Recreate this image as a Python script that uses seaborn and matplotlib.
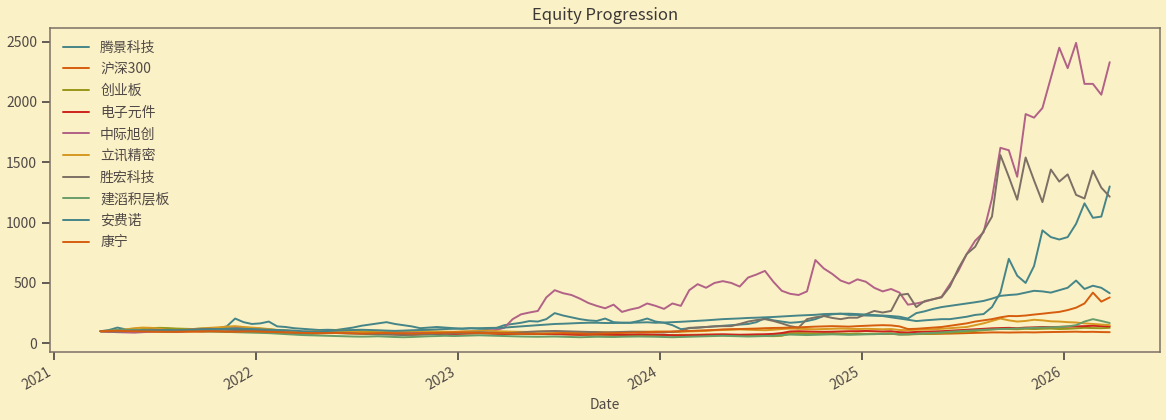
import pandas as pd
import matplotlib.pyplot as plt
import matplotlib.dates as mdates
import seaborn as sns

# date range of the equity curves (semi-monthly samples)
start = "2021-03-26"
end = "2026-03-25"

names = ["腾景科技", "沪深300", "创业板", "电子元件", "中际旭创",
         "立讯精密", "胜宏科技", "建滔积层板", "安费诺", "康宁"]
colors = ["#458588", "#d65d0e", "#98971a", "#cc241d", "#b16286",
          "#d79921", "#7c6f64", "#689d6a", "#458588", "#d65d0e"]

tengjing = [100, 110, 130, 115, 110, 108, 112, 115, 110, 112, 115, 118, 120, 118, 125, 140, 205, 175, 160, 165, 180,
            140, 135, 125, 120, 115, 110, 112, 110, 120, 130, 145, 155, 165, 175, 160, 150, 140, 125, 130, 135,
            130, 125, 120, 125, 120, 118, 125,
            150, 160, 170, 184, 180, 200, 250, 230, 215, 200, 190, 185, 205, 175, 170, 170, 185, 205, 180, 170,
            150, 117, 125, 130, 135, 140, 145, 150, 155, 160, 175,
            209, 190, 180, 170, 175, 184, 200, 226, 240, 245, 235, 235, 230, 228, 226, 215, 205, 195, 184, 190,
            195, 200, 200, 210, 220, 235, 242, 300, 420, 700, 560, 500, 640, 936, 880, 860, 880, 990, 1160, 1040,
            1050, 1300]

hs300 = [100, 98, 100, 102, 100, 99, 97, 96, 95, 93, 96, 97, 96, 98, 99, 98, 97, 98, 99,
         97, 95, 92, 90, 86, 82, 80, 82, 84, 85, 86, 85, 84, 83, 80, 78, 76, 74, 72, 75, 76, 78, 80, 78,
         80, 82, 83, 82, 80, 78, 79, 78, 77, 76, 77, 78, 76, 75, 74, 73, 72, 71, 70, 70, 69, 68, 68, 67,
         66, 68, 70, 70, 71, 72, 72, 71, 70, 70, 69, 68, 67, 68, 80, 84, 80, 79, 78, 78, 77, 78, 77, 78,
         77, 76, 77, 78, 74, 75, 76, 77, 78, 79, 80, 82, 84, 86, 88, 90, 90, 89, 90, 91, 90, 92, 93, 94,
         95, 96, 94, 95, 93, 92]

chinext = [100, 102, 106, 110, 112, 118, 125, 128, 126, 122, 120, 118, 122, 124, 126, 125, 124, 122, 124,
           120, 115, 110, 105, 100, 92, 90, 95, 100, 105, 108, 105, 100, 95, 92, 88, 85, 82, 84, 86, 84, 85, 86, 85,
           88, 90, 88, 86, 84, 82, 80, 82, 80, 78, 80, 78, 76, 75, 74, 72, 73, 74, 72, 70, 69, 70, 71, 70,
           68, 64, 60, 62, 66, 68, 67, 66, 64, 63, 62, 60, 60, 59, 62, 80, 84, 82, 80, 82, 84, 80, 78, 80,
           78, 79, 80, 82, 75, 74, 76, 78, 80, 84, 88, 92, 96, 102, 108, 115, 120, 118, 116, 120, 118, 120, 122, 118,
           120, 124, 128, 126, 125, 128]

components = [100, 98, 102, 105, 104, 108, 110, 112, 110, 108, 106, 108, 110, 112, 115, 118, 116, 114, 112,
              110, 105, 100, 96, 92, 88, 85, 88, 90, 92, 94, 92, 88, 85, 82, 80, 78, 76, 74, 75, 76, 78, 80, 78,
              80, 82, 84, 82, 80, 78, 80, 82, 80, 78, 76, 75, 74, 72, 70, 72, 74, 73, 72, 70, 72, 74, 73, 72,
              70, 66, 64, 66, 68, 70, 72, 74, 72, 70, 72, 74, 75, 78, 85, 98, 100, 98, 96, 95, 96, 98, 100, 100,
              102, 100, 98, 100, 92, 90, 94, 96, 98, 100, 104, 108, 112, 116, 120, 124, 126, 128, 125, 130, 132, 135,
              134, 136, 138, 140, 142, 145, 142, 140]

zhongji = [100, 95, 92, 90, 88, 92, 96, 100, 98, 95, 100, 105, 110, 115, 118, 120, 125, 130, 120, 115,
           110, 100, 95, 90, 85, 88, 92, 95, 92, 90, 88, 85, 82, 80, 82, 85, 88, 90, 88, 86,
           88, 90, 92, 95, 98, 100, 105, 110,
           128, 200, 240, 255, 268, 380, 440, 415, 400, 370, 334,
           310, 290, 320, 260, 280, 295, 330, 310, 285, 330, 310, 440, 490, 460, 500, 515, 500, 470, 545, 570,
           600, 510, 435, 410, 400, 430, 690, 620, 575, 520, 495,
           530, 510, 460, 430, 450, 420, 320, 330, 345, 365, 385, 490, 600, 740, 850, 920, 1200, 1620, 1600, 1380,
           1900, 1870, 1950, 2200, 2450, 2280, 2490, 2150, 2150, 2060, 2330]

luxshare = [100, 102, 108, 115, 125, 130, 128, 120, 110, 108, 112, 118, 122, 128, 132, 138, 142, 135, 130,
            125, 118, 110, 105, 100, 95, 98, 102, 100, 98, 100, 96, 92, 90, 92, 94, 96, 98, 100, 102, 100, 98, 96, 95,
            98, 100, 102, 104, 100, 98, 96, 95, 94, 96, 98, 96, 94, 92, 90, 92, 94, 92, 90, 92, 94, 95, 96, 98,
            96, 92, 95, 98, 100, 102, 108, 110, 112, 115, 112, 110, 108, 112, 118, 122, 120, 118, 116, 118, 120, 122,
            120, 118,
            120, 118, 116, 118, 110, 108, 112, 114, 116, 120, 125, 130, 135, 150, 165, 185, 205, 190, 180, 185,
            195, 190, 182, 180, 175, 172, 165, 160, 155, 150]

shenghong = [100, 98, 96, 100, 104, 108, 112, 110, 106, 104, 110, 115, 118, 120, 116, 112, 110, 108, 105,
             102, 98, 95, 90, 86, 82, 80, 84, 88, 85, 82, 80, 78, 76, 74, 72, 70, 68, 70, 72, 75, 78, 80, 82,
             85, 88, 90, 88, 86, 84, 86, 90, 95, 98, 100, 102, 100, 98, 96, 94, 92, 90, 92, 94, 96, 95, 94, 92, 90, 95,
             100, 128, 130, 135, 140, 142, 142, 160, 180, 192, 200, 185, 165, 142, 130, 200, 215, 226, 210, 200,
             212, 212, 240, 268, 255, 268, 400, 410, 300, 350, 365, 380, 470, 620, 740, 800, 930, 1050, 1560, 1380,
             1190, 1540, 1350, 1170, 1440, 1340, 1400, 1230, 1200, 1430, 1290, 1215]

kingboard = [100, 104, 108, 110, 112, 108, 105, 100, 98, 102, 106, 104, 100, 98, 96, 94, 92, 90, 88,
             86, 84, 80, 76, 72, 68, 66, 64, 62, 60, 58, 56, 55, 56, 58, 55, 52, 50, 52, 55, 58, 60, 62, 60,
             62, 64, 66, 64, 62, 60, 58, 56, 55, 54, 55, 56, 54, 52, 50, 52, 54, 53, 52, 54, 55, 56, 55, 54,
             52, 50, 52, 54, 56, 58, 60, 62, 60, 58, 56, 58, 60, 62, 68, 72, 70, 68, 70, 72, 74, 72, 70, 72,
             74, 76, 78, 80, 72, 74, 78, 82, 86, 90, 95, 100, 104, 108, 112, 115, 118, 120, 122, 125, 128, 130,
             132, 135, 140, 150, 180, 200, 185, 168]

amphenol = [100, 102, 104, 103, 105, 107, 106, 108, 110, 109, 111, 112, 113, 115, 117, 120, 122, 120, 118,
            115, 112, 110, 108, 105, 100, 98, 100, 102, 105, 108, 110, 112, 110, 108, 105, 103, 105, 108, 110,
            112, 115, 118, 120,
            122, 124, 125, 127, 128, 130, 135, 140, 145, 150, 155, 160, 162, 165, 168, 170, 170, 168, 168, 170,
            170, 172, 174, 170,
            172, 175, 178, 182, 186, 190, 195, 200, 203, 206, 210, 212, 215, 218, 222, 226, 230, 233, 236, 242,
            244, 245, 245, 242, 238, 234, 230, 226, 220,
            205, 250, 265, 285, 300, 310, 320, 330, 340, 351, 370, 393, 400, 405, 420, 435, 430, 420, 440, 460,
            520, 450, 477, 460, 415]

corning = [100, 102, 103, 101, 100, 98, 97, 96, 95, 96, 97, 98, 99, 100, 98, 96, 95, 97, 98,
           96, 94, 92, 90, 88, 86, 85, 84, 85, 86, 84, 82, 80, 82, 84, 85, 83, 82, 80, 82, 84, 86, 88, 90,
           90, 88, 86, 85, 84, 83, 82, 80, 80, 78, 80, 82, 84, 82, 80, 78, 80, 82, 84, 86, 88, 90, 92, 94,
           96, 98, 100, 102, 105, 108, 110, 115, 117, 118, 120, 122, 125, 127, 128, 130, 132, 135, 138, 140,
           142, 140, 138, 142,
           145, 148, 150, 148, 140, 118, 120, 125, 130, 135, 145, 155, 165, 180, 190, 200, 215, 226, 225, 230,
           238, 245, 253, 260, 275, 295, 330, 420, 345, 380]

all_values = [tengjing, hs300, chinext, components, zhongji,
              luxshare, shenghong, kingboard, amphenol, corning]

frames = []
for name, vals in zip(names, all_values):
    frames.append(pd.DataFrame({"Date": pd.date_range(start, end, periods=len(vals)),
                                "Equity": vals, "Name": name}))
df = pd.concat(frames, ignore_index=True)

bg = "#fbf1c7"
fg = "#504945"
sns.set_theme(style="ticks", rc={
    "figure.facecolor": bg, "axes.facecolor": bg, "savefig.facecolor": bg,
    "axes.edgecolor": "#7c6f64", "axes.linewidth": 1.1,
    "text.color": fg, "axes.labelcolor": fg,
    "xtick.color": fg, "ytick.color": fg,
    "xtick.labelsize": 10, "ytick.labelsize": 10,
})
plt.rcParams["font.family"] = ["Noto Sans CJK SC", "DejaVu Sans"]

fig, ax = plt.subplots(figsize=(11.66, 4.2), dpi=100)
sns.lineplot(data=df, x="Date", y="Equity", hue="Name", hue_order=names,
             palette=colors, linewidth=1.4, ax=ax)

ax.set_title("Equity Progression", fontsize=12, color="#3c3836")
ax.set_xlabel("Date", fontsize=10)
ax.set_ylabel("")
ax.xaxis.set_major_locator(mdates.YearLocator())
ax.xaxis.set_major_formatter(mdates.DateFormatter("%Y"))
plt.setp(ax.get_xticklabels(), rotation=30, ha="right")

sns.move_legend(ax, "upper left", frameon=False, title=None, fontsize=10,
                labelspacing=0.55, handlelength=1.9)

fig.subplots_adjust(left=0.043, right=0.995, top=0.933, bottom=0.162)
fig.savefig("out.png", dpi=100)
